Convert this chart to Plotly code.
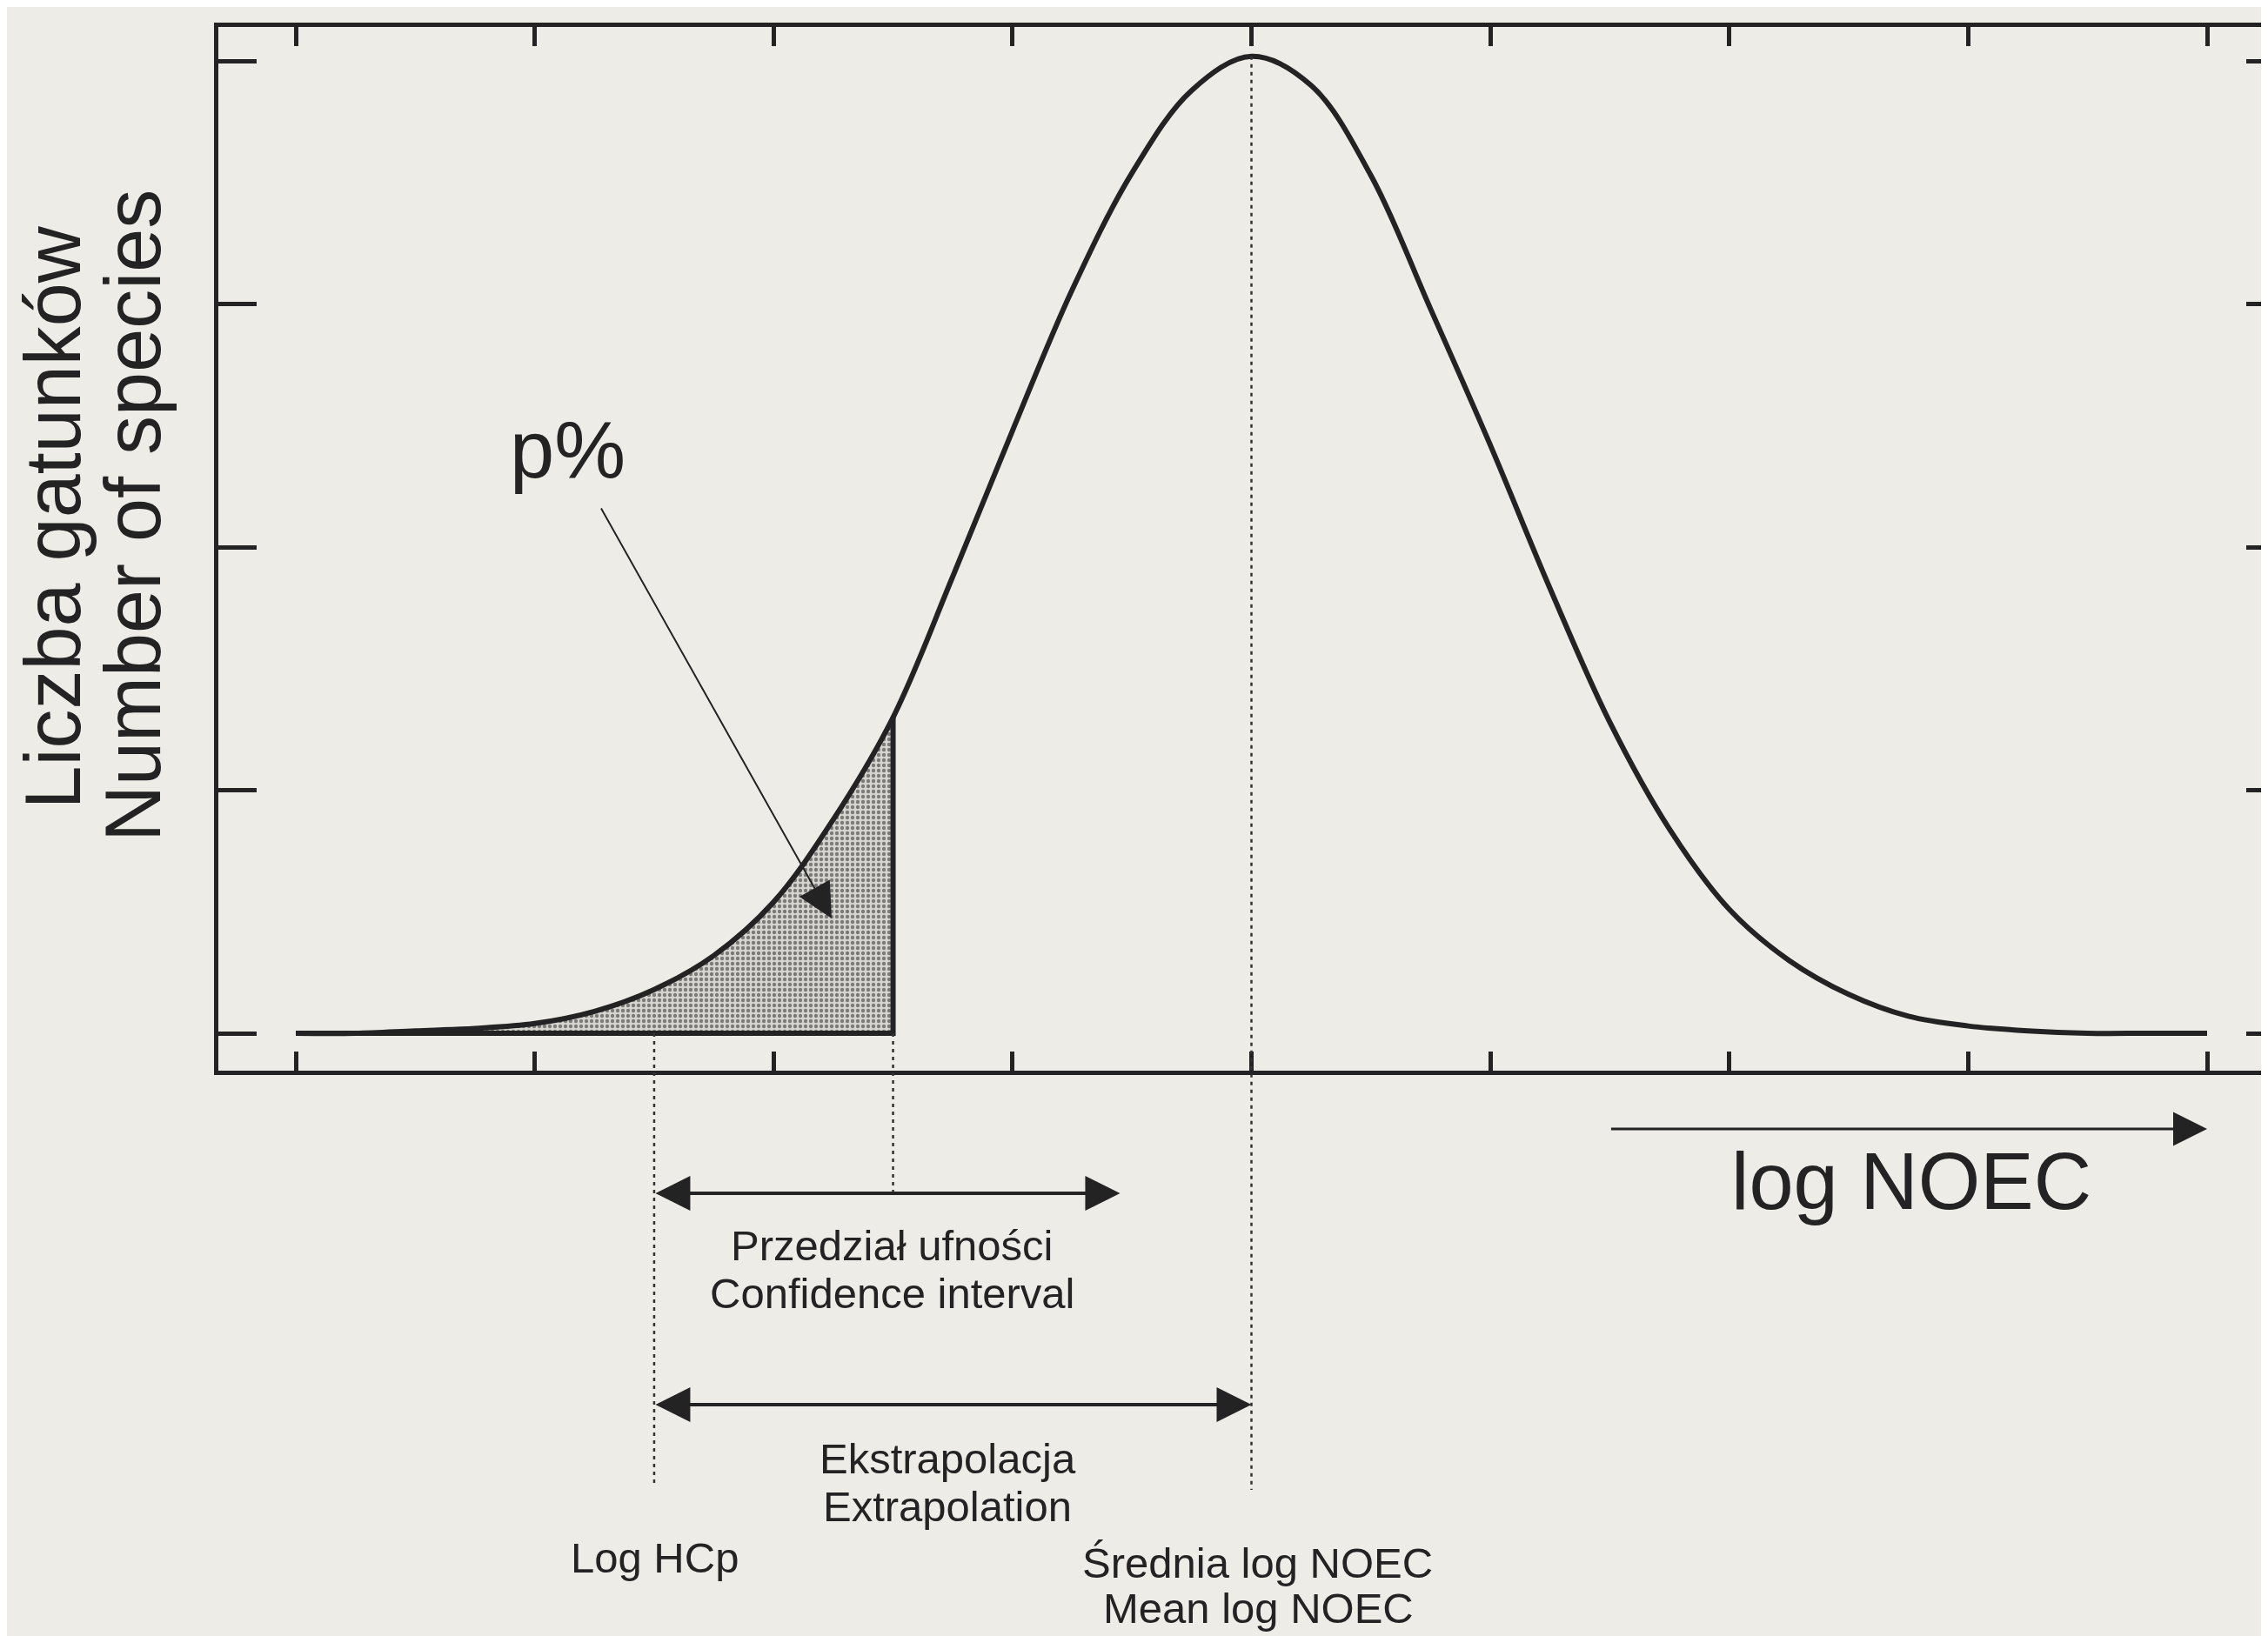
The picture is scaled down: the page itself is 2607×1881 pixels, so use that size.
import plotly.graph_objects as go

# ---------------- data ----------------
log_noec = [0.0, 0.25, 0.5, 0.75, 1.0, 1.25, 1.5, 1.75, 2.0, 2.25, 2.5, 2.75,
            3.0, 3.25, 3.5, 3.75, 4.0, 4.25, 4.5, 4.75, 5.0, 5.25, 5.5, 5.75,
            6.0, 6.25, 6.5, 6.75, 7.0, 7.25, 7.5, 7.75, 8.0]
number_of_species = [0.00, 0.00, 0.01, 0.02, 0.04, 0.09, 0.18, 0.32, 0.54, 0.88, 1.30, 1.88,
                     2.48, 3.06, 3.54, 3.88, 4.02, 3.90, 3.53, 2.98, 2.42, 1.83, 1.28, 0.84,
                     0.51, 0.30, 0.16, 0.07, 0.03, 0.01, 0.00, 0.00, 0.00]
x_tick_vals = [0, 1, 2, 3, 4, 5, 6, 7, 8]
y_tick_vals = [0, 1, 2, 3, 4]

log_hcp = 1.5          # Log HCp
p_cut = 2.5            # right edge of the p% area
ci_upper = 3.45        # upper end of confidence interval arrow
mean_log_noec = 4.0    # mean log NOEC
axis_arrow = [5.5, 8.0]  # "log NOEC" direction arrow

# ---------------- geometry / style ----------------
W, H = 2607, 1881
OFF = 8  # default page body margin
PL, PR, PT, PB = 251, 2607, 31, 1231   # plot area in page pixels
X0PX, XUNIT = 340, 274.625
Y0PX, YUNIT = 1188, 279.4
xr = [(PL - X0PX) / XUNIT, (PR - X0PX) / XUNIT]
yr = [(Y0PX - PB) / YUNIT, (Y0PX - PT) / YUNIT]

INK = "#232323"
BG = "#EDECE7"
FONT = "Liberation Sans, Arial, Helvetica, sans-serif"


def pxx(px):
    return (px - PL) / (PR - PL)


def pyy(py):
    return (PB - py) / (PB - PT)


def u2paper(u):
    return (u - yr[0]) / (yr[1] - yr[0])


cut_i = log_noec.index(p_cut)
peak_i = log_noec.index(mean_log_noec)

fig = go.Figure()

# shaded p% area
fig.add_trace(go.Scatter(
    x=log_noec[:cut_i + 1], y=number_of_species[:cut_i + 1],
    mode="lines", line=dict(width=0, color=INK, shape="spline", smoothing=1.0),
    fill="tozeroy", fillcolor="rgba(0,0,0,0)",
    fillpattern=dict(shape=".", fgcolor="#222222", bgcolor="#d6d5d0", size=6, solidity=0.42),
    showlegend=False, hoverinfo="skip"))

# closing edges of shaded area
fig.add_trace(go.Scatter(
    x=[log_noec[cut_i], log_noec[cut_i], log_noec[0]],
    y=[number_of_species[cut_i], 0, 0],
    mode="lines", line=dict(width=6, color=INK), showlegend=False, hoverinfo="skip"))

# the distribution curve
fig.add_trace(go.Scatter(
    x=log_noec, y=number_of_species, mode="lines",
    line=dict(width=6, color=INK, shape="spline", smoothing=1.0),
    showlegend=False, hoverinfo="skip"))

# dummy trace for the right-hand tick axis
fig.add_trace(go.Scatter(x=[None], y=[None], yaxis="y2", showlegend=False, hoverinfo="skip"))

dot = dict(color="#333333", width=2.5, dash="4px,5px")
shapes = [
    dict(type="line", xref="x", yref="paper", x0=log_hcp, x1=log_hcp,
         y0=u2paper(0), y1=pyy(1710), line=dot),
    dict(type="line", xref="x", yref="paper", x0=p_cut, x1=p_cut,
         y0=u2paper(0), y1=pyy(1372), line=dot),
    dict(type="line", xref="x", yref="paper", x0=mean_log_noec, x1=mean_log_noec,
         y0=u2paper(number_of_species[peak_i]), y1=pyy(1713), line=dot),
]

ann = []


def label(text, cx, baseline, size):
    ann.append(dict(text=text, x=pxx(cx), y=pyy(baseline + 0.212 * size + 1),
                    xref="paper", yref="paper", xanchor="center", yanchor="bottom",
                    showarrow=False, font=dict(size=size, color=INK, family=FONT)))


def vlabel(text, baseline_x, start_y, size):
    ann.append(dict(text=text, x=pxx(baseline_x + 0.212 * size + 1), y=pyy(start_y),
                    xref="paper", yref="paper", xanchor="right", yanchor="bottom",
                    textangle=-90, showarrow=False,
                    font=dict(size=size, color=INK, family=FONT)))


def harrow(x_tail, x_head, py, width, size, both):
    d = dict(text="", x=x_head, y=pyy(py), xref="x", yref="paper",
             ax=x_tail, ay=0, axref="x", ayref="pixel",
             showarrow=True, arrowhead=2, arrowsize=size, arrowwidth=width,
             arrowcolor=INK)
    if both:
        d.update(arrowside="end+start", startarrowhead=2, startarrowsize=size)
    ann.append(d)


vlabel("Liczba gatunków", 92, 933, 90)
vlabel("Number of species", 185, 970, 90)
label("p%", 652, 549, 92)
label("log NOEC", 2197, 1390, 92)
label("Przedział ufności", 1025, 1450, 49)
label("Confidence interval", 1025, 1505, 49)
label("Ekstrapolacja", 1089, 1695, 49)
label("Extrapolation", 1089, 1750, 49)
label("Log HCp", 752, 1809, 49)
label("Średnia log NOEC", 1445, 1815, 49)
label("Mean log NOEC", 1446, 1867, 49)

harrow(log_hcp, ci_upper, 1372, 4, 2, True)
harrow(log_hcp, mean_log_noec, 1615, 4, 2, True)
harrow(axis_arrow[0], axis_arrow[1], 1298, 3, 2.6, False)

# p% pointer arrow
ann.append(dict(text="", x=2.243, y=0.472, xref="x", yref="y",
                ax=1.275, ay=2.165, axref="x", ayref="y",
                showarrow=True, arrowhead=2, arrowsize=4, arrowwidth=2, arrowcolor=INK))

fig.update_layout(
    width=W - OFF, height=H - OFF, autosize=False,
    margin=dict(l=PL - OFF, r=W - PR, t=PT - OFF, b=H - PB, pad=0),
    paper_bgcolor=BG, plot_bgcolor=BG,
    font=dict(family=FONT, color=INK),
    showlegend=False,
    xaxis=dict(range=xr, tickvals=x_tick_vals, ticks="inside", ticklen=22, tickwidth=5,
               tickcolor=INK, showticklabels=False, showgrid=False, zeroline=False,
               showline=True, linewidth=5, linecolor=INK, mirror="ticks", fixedrange=True),
    yaxis=dict(range=yr, tickvals=y_tick_vals, ticks="inside", ticklen=44, tickwidth=5,
               tickcolor=INK, showticklabels=False, showgrid=False, zeroline=False,
               showline=True, linewidth=5, linecolor=INK, mirror=False, fixedrange=True),
    yaxis2=dict(range=yr, overlaying="y", side="right", tickvals=y_tick_vals, ticks="inside",
                ticklen=25, tickwidth=5, tickcolor=INK, showticklabels=False, showgrid=False,
                zeroline=False, showline=False, fixedrange=True),
    shapes=shapes,
    annotations=ann,
)

fig.write_html("out.html", config={"displayModeBar": False})
